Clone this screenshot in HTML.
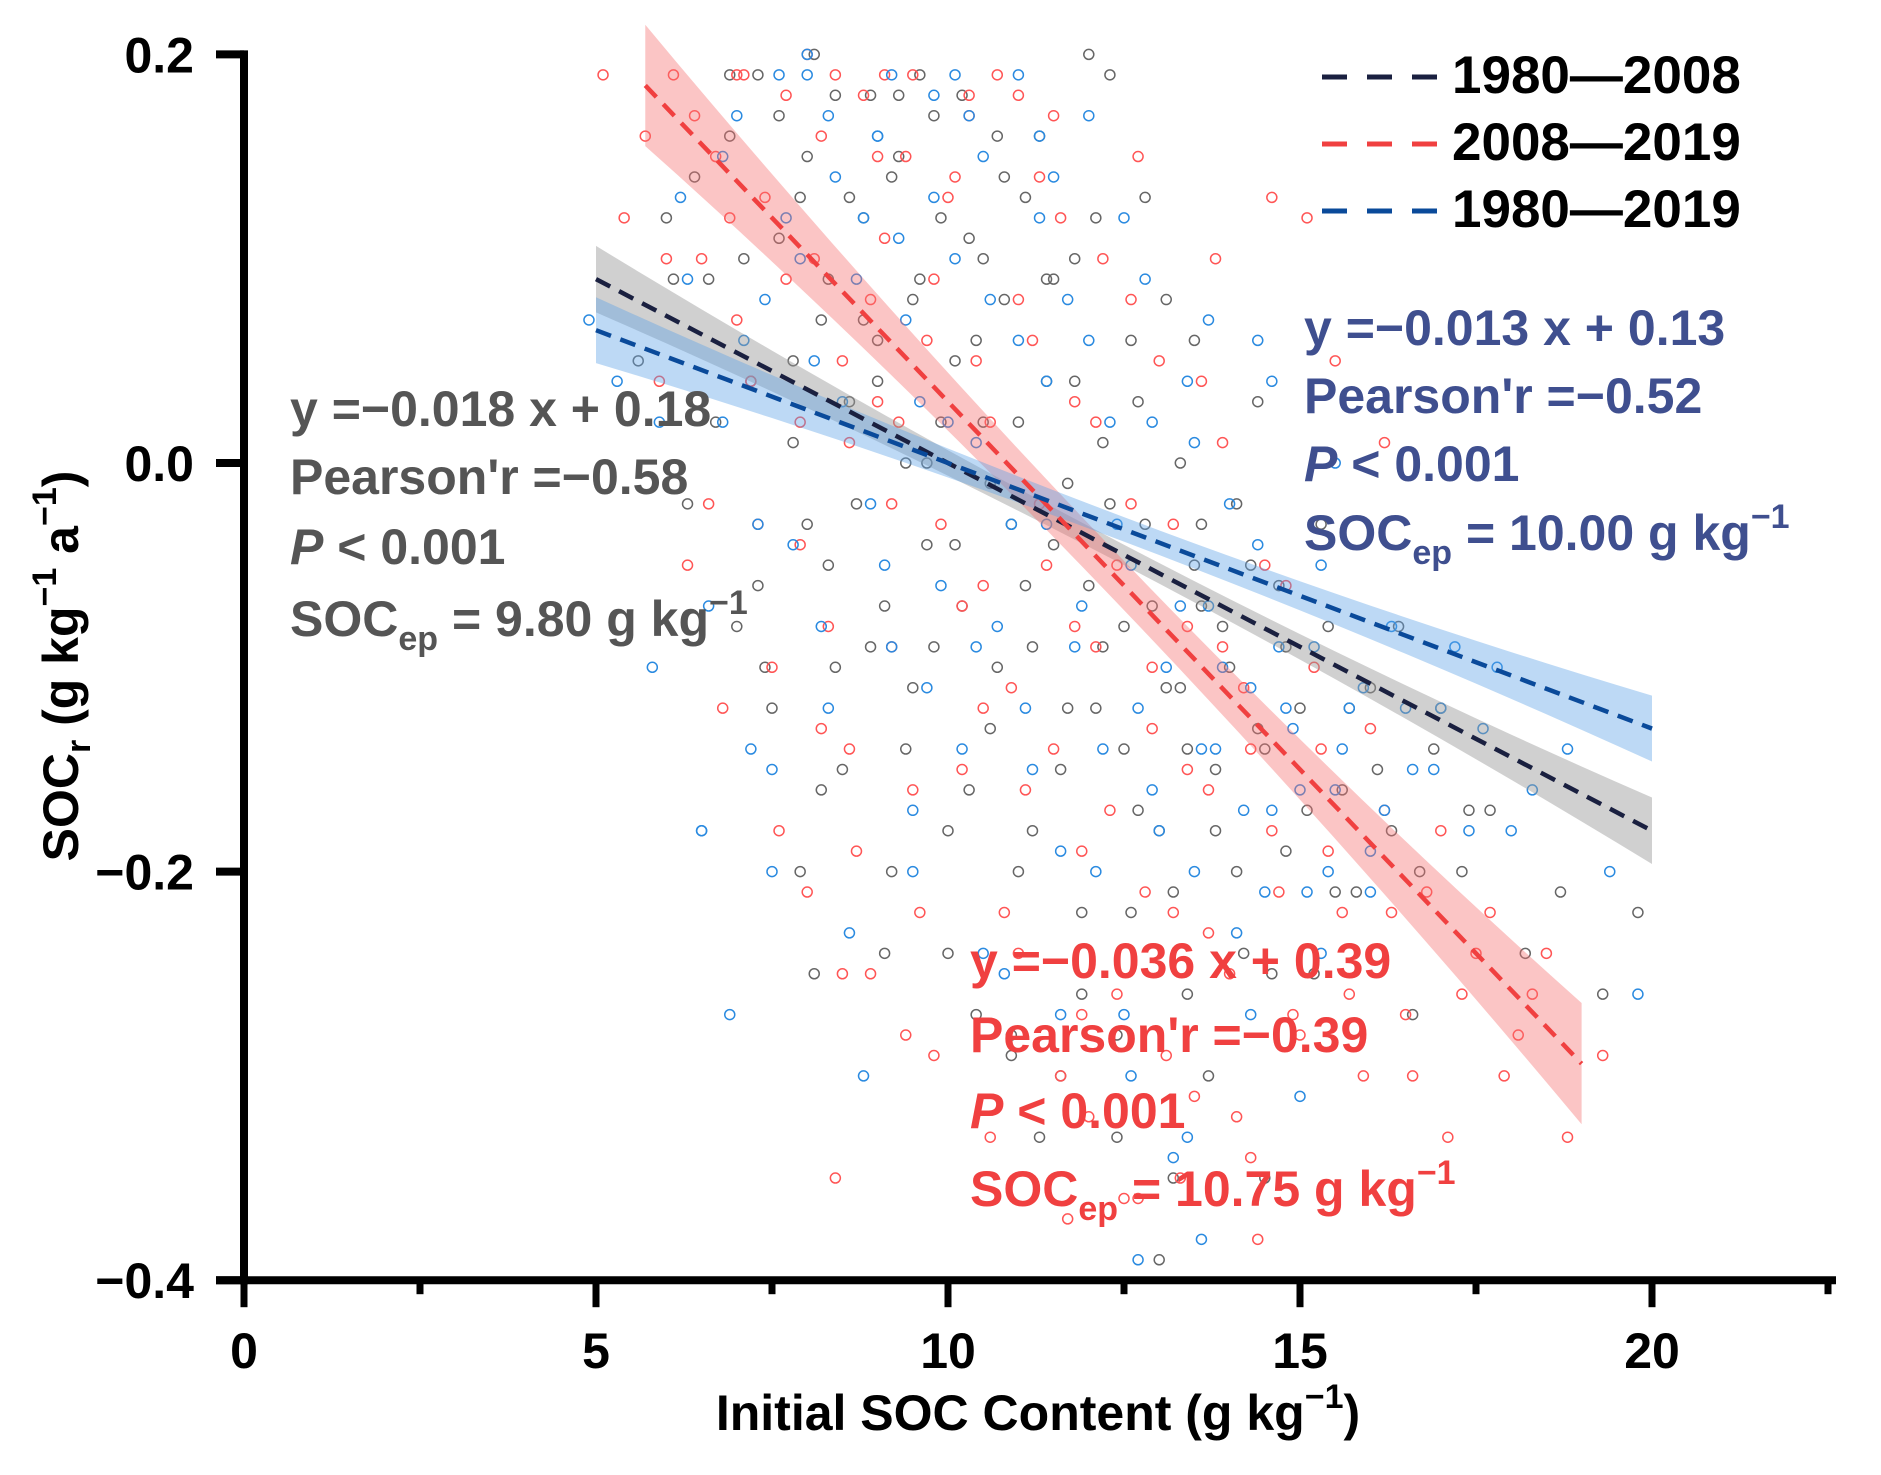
<!DOCTYPE html>
<html><head><meta charset="utf-8"><style>
html,body{margin:0;padding:0;background:#fff}
svg{display:block}
text{font-family:"Liberation Sans",Arial,sans-serif;font-weight:bold}
</style></head><body>
<svg id="chart" width="1881" height="1475" viewBox="0 0 1881 1475" xmlns="http://www.w3.org/2000/svg">
<g id="points"></g>
<g id="bands"></g>
<g id="fits"></g>
<g id="axes"></g>
<g>
  <g>
    <line x1="1322" y1="77" x2="1440" y2="77" stroke="#1a2040" stroke-width="5" stroke-dasharray="25,20"/>
    <text x="1452" y="93" font-size="53" fill="#000">1980—2008</text>
  </g>
  <g>
    <line x1="1322" y1="144" x2="1440" y2="144" stroke="#f04040" stroke-width="5" stroke-dasharray="25,20"/>
    <text x="1452" y="160" font-size="53" fill="#000">2008—2019</text>
  </g>
  <g>
    <line x1="1322" y1="211" x2="1440" y2="211" stroke="#0a4a9a" stroke-width="5" stroke-dasharray="25,20"/>
    <text x="1452" y="227" font-size="53" fill="#000">1980—2019</text>
  </g>
</g>
<g fill="#3f4f8f" font-size="50">
  <text x="1304" y="345">y =−0.013 x + 0.13</text>
  <text x="1304" y="413">Pearson'r =−0.52</text>
  <text x="1304" y="481"><tspan font-style="italic">P</tspan> &lt; 0.001</text>
  <text x="1304" y="550">SOC<tspan font-size="34" dy="14">ep</tspan><tspan dy="-14"> = 10.00 g kg</tspan><tspan font-size="34" dy="-22">−1</tspan></text>
</g>
<g fill="#555" font-size="50">
  <text x="290" y="426">y =−0.018 x + 0.18</text>
  <text x="290" y="494">Pearson'r =−0.58</text>
  <text x="290" y="564"><tspan font-style="italic">P</tspan> &lt; 0.001</text>
  <text x="290" y="636">SOC<tspan font-size="34" dy="14">ep</tspan><tspan dy="-14"> = 9.80 g kg</tspan><tspan font-size="34" dy="-22">−1</tspan></text>
</g>
<g fill="#f04040" font-size="50">
  <text x="970" y="978">y =−0.036 x + 0.39</text>
  <text x="970" y="1052">Pearson'r =−0.39</text>
  <text x="970" y="1128"><tspan font-style="italic">P</tspan> &lt; 0.001</text>
  <text x="970" y="1206">SOC<tspan font-size="34" dy="14">ep</tspan><tspan dy="-14"> = 10.75 g kg</tspan><tspan font-size="34" dy="-22">−1</tspan></text>
</g>
<text x="1038" y="1430" text-anchor="middle" font-size="50" fill="#000">Initial SOC Content (g kg<tspan font-size="34" dy="-22">−1</tspan><tspan dy="22">)</tspan></text>
<text transform="translate(78,666) rotate(-90)" text-anchor="middle" font-size="50" fill="#000">SOC<tspan font-size="34" dy="12">r</tspan><tspan dy="-12"> (g kg</tspan><tspan font-size="34" dy="-22">−1</tspan><tspan dy="22"> a</tspan><tspan font-size="34" dy="-22">−1</tspan><tspan dy="22">)</tspan></text>
</svg>
<script>
const xTicks = [0, 5, 10, 15, 20];
const xMinor = [2.5, 7.5, 12.5, 17.5, 22.5];
const yTicks = [0.2, 0.0, -0.2, -0.4];
const yTickLabels = ["0.2", "0.0", "−0.2", "−0.4"];

const seriesNames = ["1980-2008", "2008-2019", "1980-2019"];
const fitSlopes = [-0.018, -0.036, -0.013];
const fitIntercepts = [0.18, 0.39, 0.13];
const fitXStart = [5, 5.7, 5];
const fitXEnd = [20, 19, 20];

const blackX = [5.6,6.0,6.3,6.6,6.9,7.0,7.2,7.3,7.5,7.6,7.8,7.9,8.0,8.2,8.3,8.4,8.5,8.6,8.8,8.9,9.0,9.1,9.2,9.4,9.5,9.6,9.7,9.8,10.0,10.1,10.2,10.3,10.4,10.5,10.6,10.8,10.9,11.0,11.1,11.2,11.3,11.4,11.6,11.7,11.8,11.9,12.0,12.1,12.2,12.4,12.5,12.6,12.7,12.8,13.0,13.1,13.2,13.3,13.4,13.6,13.7,13.8,14.0,14.1,14.2,14.4,14.5,14.7,14.8,15.0,15.2,15.4,15.6,15.8,16.0,16.3,16.6,16.9,17.3,17.7,18.2,18.7,19.3,19.8,8.1,9.3,10.7,11.5,12.3,13.5,9.9,10.9];
const blackY = [0.05,0.12,-0.02,0.09,0.16,-0.08,0.04,0.19,-0.12,0.11,0.01,-0.20,0.15,0.07,-0.05,0.18,-0.15,0.03,0.12,-0.09,0.06,-0.24,0.14,0.00,-0.11,0.09,-0.04,0.17,-0.18,0.05,-0.07,0.11,-0.27,0.02,-0.13,0.08,-0.03,-0.20,0.13,-0.09,-0.33,0.04,-0.15,-0.01,0.10,-0.22,-0.06,-0.12,0.01,-0.28,-0.08,0.06,-0.17,-0.03,-0.39,-0.11,-0.21,0.00,-0.14,-0.07,-0.30,-0.18,-0.10,-0.02,-0.24,-0.13,-0.35,-0.06,-0.19,-0.12,-0.25,-0.08,-0.16,-0.21,-0.11,-0.18,-0.27,-0.14,-0.20,-0.17,-0.24,-0.21,-0.26,-0.22,-0.25,0.18,0.16,0.09,0.19,-0.05,0.02,-0.29,-0.37];
const blackExtra = [[6.4,.14],[6.7,.02],[7.1,.10],[7.3,-.06],[7.6,.17],[7.8,.05],[8.0,-.03],[8.1,.20],[8.3,.09],[8.4,-.10],[8.6,.13],[8.7,-.02],[8.9,.18],[9.0,.04],[9.1,-.07],[9.3,.15],[9.4,-.14],[9.5,.08],[9.7,.00],[9.8,-.09],[9.9,.12],[10.1,-.04],[10.2,.18],[10.3,-.16],[10.4,.06],[10.6,-.01],[10.7,-.10],[10.8,.14],[11.0,.02],[11.1,-.06],[11.2,-.18],[11.4,.09],[11.5,-.04],[11.7,-.12],[11.8,.04],[11.9,-.26],[12.1,.12],[12.2,-.09],[12.3,-.02],[12.5,-.14],[12.6,-.22],[12.7,.03],[12.9,-.07],[13.0,-.18],[13.1,.08],[13.3,-.11],[13.4,-.26],[13.6,-.03],[13.8,-.15],[13.9,-.08],[14.1,-.20],[14.3,-.05],[14.5,-.14],[14.6,-.25],[14.8,-.09],[15.1,-.17],[15.3,-.03],[15.5,-.21],[15.7,-.12],[16.1,-.15],[16.4,-.08],[16.7,-.20],[17.0,-.12],[17.4,-.17],[7.9,.13],[8.8,.07],[9.6,.19],[10.5,.10],[11.3,.16],[12.0,.20],[12.8,.13],[13.5,.06],[14.4,.03],[9.2,-.20],[10.0,-.24],[10.9,-.28],[11.6,-.30],[12.4,-.33],[13.2,-.35],[8.2,-.16],[7.4,-.10],[6.9,.19],[6.1,.09]];
const redX = [5.1,5.4,5.7,5.9,6.1,6.3,6.5,6.7,6.8,7.0,7.1,7.3,7.4,7.6,7.7,7.9,8.0,8.2,8.3,8.5,8.6,8.8,8.9,9.1,9.2,9.4,9.5,9.7,9.8,10.0,10.2,10.3,10.5,10.6,10.8,11.0,11.1,11.3,11.4,11.6,11.8,11.9,12.1,12.2,12.4,12.6,12.7,12.9,13.0,13.2,13.4,13.5,13.7,13.9,14.0,14.2,14.4,14.6,14.8,15.0,15.3,15.6,15.9,16.2,16.5,16.8,17.1,17.5,17.9,18.3,18.8,19.3,13.3,14.3,15.1,12.0,11.0,9.0,8.4];
const redY = [0.19,0.12,0.16,0.04,0.19,-0.05,0.10,0.15,-0.12,0.07,0.19,-0.03,0.13,-0.18,0.09,0.02,-0.21,0.16,-0.08,0.05,-0.14,0.18,-0.25,0.11,-0.02,0.15,-0.16,0.06,-0.29,0.13,-0.07,0.17,-0.12,0.02,-0.22,0.08,-0.16,0.14,-0.05,-0.30,0.03,-0.19,-0.09,0.10,-0.26,-0.02,-0.36,-0.13,0.05,-0.22,-0.08,-0.31,-0.16,0.01,-0.25,-0.11,-0.38,-0.18,-0.06,-0.28,-0.14,-0.22,-0.30,-0.17,-0.27,-0.21,-0.33,-0.24,-0.30,-0.26,-0.33,-0.29,-0.35,-0.34,0.12,-0.32,0.18,0.03,-0.35];
const redExtra = [[6.0,.10],[6.4,.17],[6.6,-.02],[6.9,.12],[7.2,.04],[7.5,-.10],[7.7,.18],[7.9,-.04],[8.1,.10],[8.2,-.13],[8.4,.19],[8.6,.01],[8.7,-.19],[8.9,.08],[9.0,.15],[9.2,-.09],[9.3,.02],[9.5,.19],[9.6,-.22],[9.8,.09],[9.9,-.03],[10.1,.14],[10.2,-.15],[10.4,.05],[10.5,-.06],[10.7,.19],[10.9,-.11],[11.0,-.24],[11.2,.06],[11.3,-.02],[11.5,-.14],[11.6,.12],[11.8,-.08],[11.9,-.27],[12.1,.02],[12.3,-.17],[12.4,-.05],[12.6,.08],[12.8,-.21],[12.9,-.10],[13.1,-.29],[13.2,-.03],[13.4,-.15],[13.6,.04],[13.7,-.23],[13.9,-.09],[14.1,-.32],[14.3,-.14],[14.5,-.05],[14.7,-.21],[14.9,-.27],[15.2,-.10],[15.4,-.19],[15.7,-.26],[16.0,-.13],[16.3,-.22],[16.6,-.30],[17.0,-.18],[17.3,-.26],[17.7,-.22],[18.1,-.28],[18.5,-.24],[7.0,.19],[8.0,.20],[9.1,.19],[10.3,.18],[11.5,.17],[12.7,.15],[13.8,.10],[14.6,.13],[15.5,.05],[16.2,.01],[8.5,-.25],[9.4,-.28],[10.6,-.33],[11.7,-.37],[12.5,-.36]];
const blueX = [4.9,5.3,5.8,6.2,6.5,6.8,7.0,7.2,7.4,7.5,7.7,7.8,8.0,8.1,8.3,8.4,8.6,8.7,8.9,9.0,9.2,9.3,9.5,9.6,9.8,9.9,10.1,10.2,10.4,10.5,10.7,10.8,11.0,11.1,11.3,11.4,11.6,11.7,11.9,12.0,12.2,12.3,12.5,12.6,12.8,12.9,13.1,13.2,13.4,13.5,13.7,13.8,14.0,14.1,14.3,14.4,14.6,14.7,14.9,15.1,15.3,15.5,15.7,16.0,16.3,16.6,17.0,17.4,17.8,18.3,18.8,19.4,19.8,6.9,8.8,12.7,13.6,15.0];
const blueY = [0.07,0.04,-0.10,0.13,-0.18,0.02,0.17,-0.14,0.08,-0.20,0.12,-0.04,0.19,0.05,-0.12,0.14,-0.23,0.09,-0.02,0.16,-0.09,0.11,-0.17,0.03,0.18,-0.06,0.10,-0.14,0.01,0.15,-0.08,-0.25,0.06,-0.12,0.12,-0.03,-0.19,0.08,-0.07,0.17,-0.14,0.02,-0.27,-0.05,0.09,-0.16,-0.10,-0.34,0.04,-0.20,-0.07,-0.14,-0.02,-0.23,-0.11,0.06,-0.17,-0.09,-0.13,-0.21,-0.05,-0.16,-0.12,-0.19,-0.08,-0.15,-0.12,-0.18,-0.10,-0.16,-0.14,-0.20,-0.26,-0.27,-0.30,-0.39,-0.38,-0.31];
const blueExtra = [[5.9,.02],[6.3,.09],[6.6,-.07],[6.8,.15],[7.1,.06],[7.3,-.03],[7.6,.19],[7.9,.10],[8.2,-.08],[8.3,.17],[8.5,.03],[8.8,.12],[9.1,-.05],[9.2,.19],[9.4,.07],[9.7,-.11],[9.8,.13],[10.0,.02],[10.3,.17],[10.4,-.09],[10.6,.08],[10.9,-.03],[11.0,.19],[11.2,-.15],[11.4,.04],[11.5,.14],[11.8,-.09],[12.0,.06],[12.1,-.20],[12.4,-.03],[12.7,-.12],[12.9,.02],[13.0,-.18],[13.3,-.07],[13.5,.01],[13.6,-.14],[13.9,-.10],[14.2,-.17],[14.4,-.04],[14.5,-.21],[14.8,-.12],[15.0,-.16],[15.2,-.09],[15.4,-.20],[15.6,-.14],[15.9,-.11],[16.2,-.17],[16.5,-.12],[16.9,-.15],[17.2,-.09],[17.6,-.13],[18.0,-.18],[8.0,.20],[9.0,.16],[10.1,.19],[11.3,.16],[12.5,.12],[13.7,.07],[14.6,.04],[15.5,.00],[9.5,-.20],[10.5,-.24],[11.6,-.27],[12.6,-.30],[13.4,-.33],[7.5,-.15],[6.5,-.18],[14.3,-.27],[15.3,-.24],[16.0,-.21]];

const NS = "http://www.w3.org/2000/svg";
const X0 = 244, PXU = 70.4;
const Y0 = 463, PYU = 2043;
function sx(v){ return X0 + v * PXU; }
function sy(v){ return Y0 - v * PYU; }
function mk(tag, attrs, parent){
  const e = document.createElementNS(NS, tag);
  for (const k in attrs) e.setAttribute(k, attrs[k]);
  parent.appendChild(e);
  return e;
}

const pts = document.getElementById("points");
function addPoint(x, y, color, name){
  const c = mk("circle", {cx: sx(x), cy: sy(y), r: 5, fill: "none", stroke: color, "stroke-width": 1.5}, pts);
  
  
}
const scatterSets = [[blackX, blackY, blackExtra, "#666", "black"], [redX, redY, redExtra, "#f55", "red"], [blueX, blueY, blueExtra, "#2a8ae0", "blue"]];
scatterSets.forEach(function(s){
  const n = Math.min(s[0].length, s[1].length);
  for (let i = 0; i < n; i++) addPoint(s[0][i], s[1][i], s[3], s[4]);
  s[2].forEach(function(p){ addPoint(p[0], p[1], s[3], s[4]); });
});

const bandColors = ["rgba(150,150,150,0.45)", "rgba(245,110,110,0.4)", "rgba(90,160,230,0.4)"];
const bandBase = [0.005, 0.012, 0.006];
const bandGrow = [0.0002, 0.0004, 0.00018];
const lineColors = ["#1a2040", "#f04040", "#0a4a9a"];
const bands = document.getElementById("bands");
const fits = document.getElementById("fits");
for (let k = 0; k < fitSlopes.length; k++) {
  const a = fitXStart[k], b = fitXEnd[k], m = (a + b) / 2;
  const up = [], lo = [];
  for (let j = 0; j <= 30; j++) {
    const x = a + (b - a) * j / 30;
    const yv = fitSlopes[k] * x + fitIntercepts[k];
    const hw = bandBase[k] + bandGrow[k] * (x - m) * (x - m);
    up.push(sx(x) + "," + sy(yv + hw));
    lo.unshift(sx(x) + "," + sy(yv - hw));
  }
  const p = mk("polygon", {points: up.concat(lo).join(" "), fill: bandColors[k]}, bands);
  
  
  const l = mk("line", {x1: sx(a), y1: sy(fitSlopes[k]*a + fitIntercepts[k]), x2: sx(b), y2: sy(fitSlopes[k]*b + fitIntercepts[k]), stroke: lineColors[k], "stroke-width": 4.5, "stroke-dasharray": "16,10"}, fits);
  
  
}

const ax = document.getElementById("axes");
const yAxis = mk("line", {x1: X0, y1: sy(0.2) - 4, x2: X0, y2: sy(-0.4) + 4, stroke: "#000", "stroke-width": 8}, ax);


const xAxis = mk("line", {x1: X0 - 28, y1: sy(-0.4), x2: 1836, y2: sy(-0.4), stroke: "#000", "stroke-width": 8}, ax);


yTicks.forEach(function(v, i){
  const t = mk("line", {x1: X0 - 28, y1: sy(v), x2: X0, y2: sy(v), stroke: "#000", "stroke-width": 8}, ax);
  
  
  const tx = mk("text", {x: 194, y: sy(v) + 18, "text-anchor": "end", "font-size": 50, fill: "#000"}, ax);
  tx.textContent = yTickLabels[i];
  
  
});
xTicks.forEach(function(v){
  const t = mk("line", {x1: sx(v), y1: sy(-0.4), x2: sx(v), y2: sy(-0.4) + 27, stroke: "#000", "stroke-width": 7}, ax);
  
  
  const tx = mk("text", {x: sx(v), y: 1368, "text-anchor": "middle", "font-size": 50, fill: "#000"}, ax);
  tx.textContent = String(v);
  
  
});
xMinor.forEach(function(v){
  const t = mk("line", {x1: sx(v), y1: sy(-0.4), x2: sx(v), y2: sy(-0.4) + 14, stroke: "#000", "stroke-width": 7}, ax);
  
  
});
</script>
</body></html>
